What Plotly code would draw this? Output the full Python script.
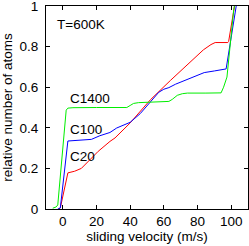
import plotly.graph_objects as go

# C20 (red)
c20_x = [-2.5, -1.5, 3, 7, 11, 16, 21, 28, 31, 40, 52, 64, 70, 76, 83.5, 88, 90.5, 98, 98.5, 102, 102.5]
c20_y = [0, 0.005, 0.178, 0.186, 0.2, 0.243, 0.284, 0.333, 0.35, 0.424, 0.538, 0.634, 0.68, 0.728, 0.784, 0.81, 0.82, 0.82, 0.825, 1.0, 1.03]

# C100 (blue)
c100_x = [-3, -1.5, 3, 10, 17, 22, 28, 32, 40, 46, 52, 57, 60, 63, 67, 73, 84, 90, 97, 103, 103.5]
c100_y = [0, 0.005, 0.335, 0.338, 0.343, 0.361, 0.377, 0.399, 0.427, 0.47, 0.525, 0.575, 0.59, 0.598, 0.615, 0.636, 0.672, 0.68, 0.69, 1.0, 1.03]

# C1400 (green)
c1400_x = [-6, -4, -3, 2, 3, 6, 20, 38, 40, 42, 45, 55, 63, 65, 68, 71, 74, 85, 94, 95.5, 97.5, 101.5, 103]
c1400_y = [0.004, 0.01, 0.02, 0.487, 0.497, 0.499, 0.5, 0.5, 0.51, 0.52, 0.524, 0.526, 0.53, 0.54, 0.56, 0.568, 0.571, 0.571, 0.572, 0.6, 0.65, 0.98, 1.05]

x_ticks = [0, 20, 40, 60, 80, 100]
y_ticks = [0, 0.2, 0.4, 0.6, 0.8, 1]
y_tick_text = ["0", "0.2", "0.4", "0.6", "0.8", "1"]

FONT = "Liberation Sans, Arial, sans-serif"

fig = go.Figure()
fig.add_trace(go.Scatter(x=c20_x, y=c20_y, mode="lines", line=dict(color="#ff0000", width=1)))
fig.add_trace(go.Scatter(x=c100_x, y=c100_y, mode="lines", line=dict(color="#0000ff", width=1)))
fig.add_trace(go.Scatter(x=c1400_x, y=c1400_y, mode="lines", line=dict(color="#00ee00", width=1)))

for txt, x, y in [("T=600K", -4.5, 0.907), ("C1400", 2.8, 0.545), ("C100", 2.8, 0.39), ("C20", 2.8, 0.26)]:
    fig.add_annotation(x=x, y=y, text=txt, showarrow=False, xanchor="left", yanchor="middle",
                       font=dict(family=FONT, size=13.5, color="black"))

axis_common = dict(showline=True, linecolor="black", linewidth=1, mirror="ticks", ticks="inside",
                   ticklen=4, tickcolor="black", showgrid=False, zeroline=False, automargin=False,
                   ticklabeloverflow="allow",
                   tickfont=dict(family=FONT, size=13.5, color="black"))

fig.update_xaxes(range=[-10, 110], tickvals=x_ticks, title=dict(text="sliding velocity (m/s)", standoff=2,
                 font=dict(family=FONT, size=13.5, color="black")), **axis_common)
fig.update_yaxes(range=[0, 1], tickvals=y_ticks, ticktext=y_tick_text, ticklabelstandoff=4,
                 title=dict(text="relative number of atoms", standoff=3,
                            font=dict(family=FONT, size=13.5, color="black")), **axis_common)

fig.update_layout(width=249, height=246, margin=dict(l=46, r=1, t=6, b=37),
                  paper_bgcolor="white", plot_bgcolor="white", showlegend=False)

fig.write_html("out.html", config={"displayModeBar": False},
               post_script="document.body.style.margin='0';document.body.style.overflow='hidden';")
